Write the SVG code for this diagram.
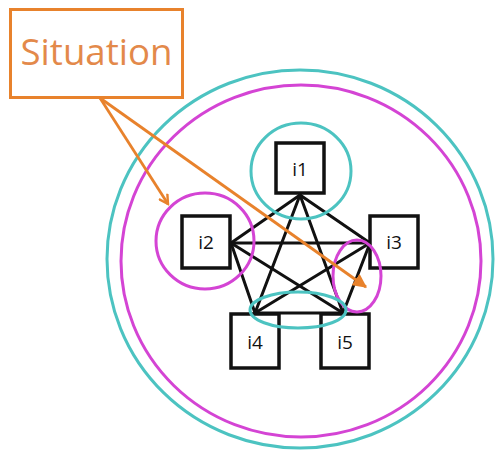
<svg xmlns="http://www.w3.org/2000/svg" width="495" height="450" viewBox="0 0 495 450">
  <style>
    .teal { fill: none; stroke: #4cc3c1; stroke-width: 3; }
    .mag { fill: none; stroke: #d444d4; stroke-width: 3; }
    .box { fill: #ffffff; stroke: #111111; stroke-width: 3.5; }
    .lbl { font-family: "Open Sans", "Liberation Sans", sans-serif; font-size: 19px; fill: #111111; text-anchor: middle; dominant-baseline: central; }
    .edge { stroke: #111111; stroke-width: 3; fill: none; stroke-linecap: round; }
    .ptr { stroke: #e8822c; stroke-width: 2.8; fill: none; }
  </style>
  <defs>
    <marker id="openHead" viewBox="0 0 12 12" refX="10" refY="6" markerWidth="12" markerHeight="12" markerUnits="userSpaceOnUse" orient="auto">
      <path d="M1,1 L10,6 L1,11" fill="none" stroke="#e8822c" stroke-width="2.4"/>
    </marker>
    <marker id="solidHead" viewBox="0 0 12 12" refX="11" refY="6" markerWidth="14" markerHeight="14" markerUnits="userSpaceOnUse" orient="auto">
      <path d="M0,0 L12,6 L0,12 Z" fill="#e8822c"/>
    </marker>
  </defs>
  <rect width="495" height="450" fill="#ffffff"/>

  <!-- outer enclosing rings -->
  <g id="outer-rings">
    <ellipse class="teal" cx="300" cy="259" rx="193" ry="189"/>
    <ellipse class="mag" cx="301" cy="261" rx="180" ry="176"/>
  </g>

  <!-- complete graph between the five items -->
  <g id="connectors">
    <line class="edge" x1="300" y1="195" x2="231" y2="243"/>
    <line class="edge" x1="300" y1="195" x2="370" y2="243"/>
    <line class="edge" x1="300" y1="195" x2="255" y2="313"/>
    <line class="edge" x1="300" y1="195" x2="343" y2="313"/>
    <line class="edge" x1="231" y1="243" x2="370" y2="243"/>
    <line class="edge" x1="231" y1="243" x2="255" y2="313"/>
    <line class="edge" x1="231" y1="243" x2="343" y2="313"/>
    <line class="edge" x1="370" y1="243" x2="255" y2="313"/>
    <line class="edge" x1="370" y1="243" x2="343" y2="313"/>
    <line class="edge" x1="255" y1="313" x2="343" y2="313"/>
  </g>

  <g id="i1">
    <rect class="box" x="276" y="143" width="48" height="50"/>
    <text class="lbl" x="300" y="169">i1</text>
  </g>
  <g id="i2">
    <rect class="box" x="182" y="216" width="48" height="52"/>
    <text class="lbl" x="206" y="242">i2</text>
  </g>
  <g id="i3">
    <rect class="box" x="370" y="216" width="48" height="52"/>
    <text class="lbl" x="394" y="242">i3</text>
  </g>
  <g id="i4">
    <rect class="box" x="231" y="314" width="48" height="54"/>
    <text class="lbl" x="255" y="342">i4</text>
  </g>
  <g id="i5">
    <rect class="box" x="321" y="314" width="48" height="54"/>
    <text class="lbl" x="345" y="342">i5</text>
  </g>

  <!-- grouping rings around items -->
  <g id="groups">
    <ellipse class="teal" cx="301" cy="171" rx="50" ry="48"/>
    <ellipse class="mag" cx="205" cy="241" rx="49" ry="48"/>
    <ellipse class="mag" cx="357" cy="276" rx="24" ry="36"/>
    <ellipse class="teal" cx="298" cy="310" rx="48" ry="18"/>
  </g>

  <g id="situation">
    <rect x="10.5" y="9.5" width="172" height="88" fill="#ffffff" stroke="#e8822c" stroke-width="3"/>
    <text x="96.5" y="65" font-family="'Open Sans', 'Liberation Sans', sans-serif" font-size="37" fill="#e3894a" text-anchor="middle" textLength="152" lengthAdjust="spacingAndGlyphs">Situation</text>
  </g>

  <g id="pointers">
    <line class="ptr" x1="100" y1="98" x2="168" y2="204" marker-end="url(#openHead)"/>
    <line class="ptr" x1="100" y1="98" x2="366" y2="287" marker-end="url(#solidHead)"/>
  </g>
</svg>
